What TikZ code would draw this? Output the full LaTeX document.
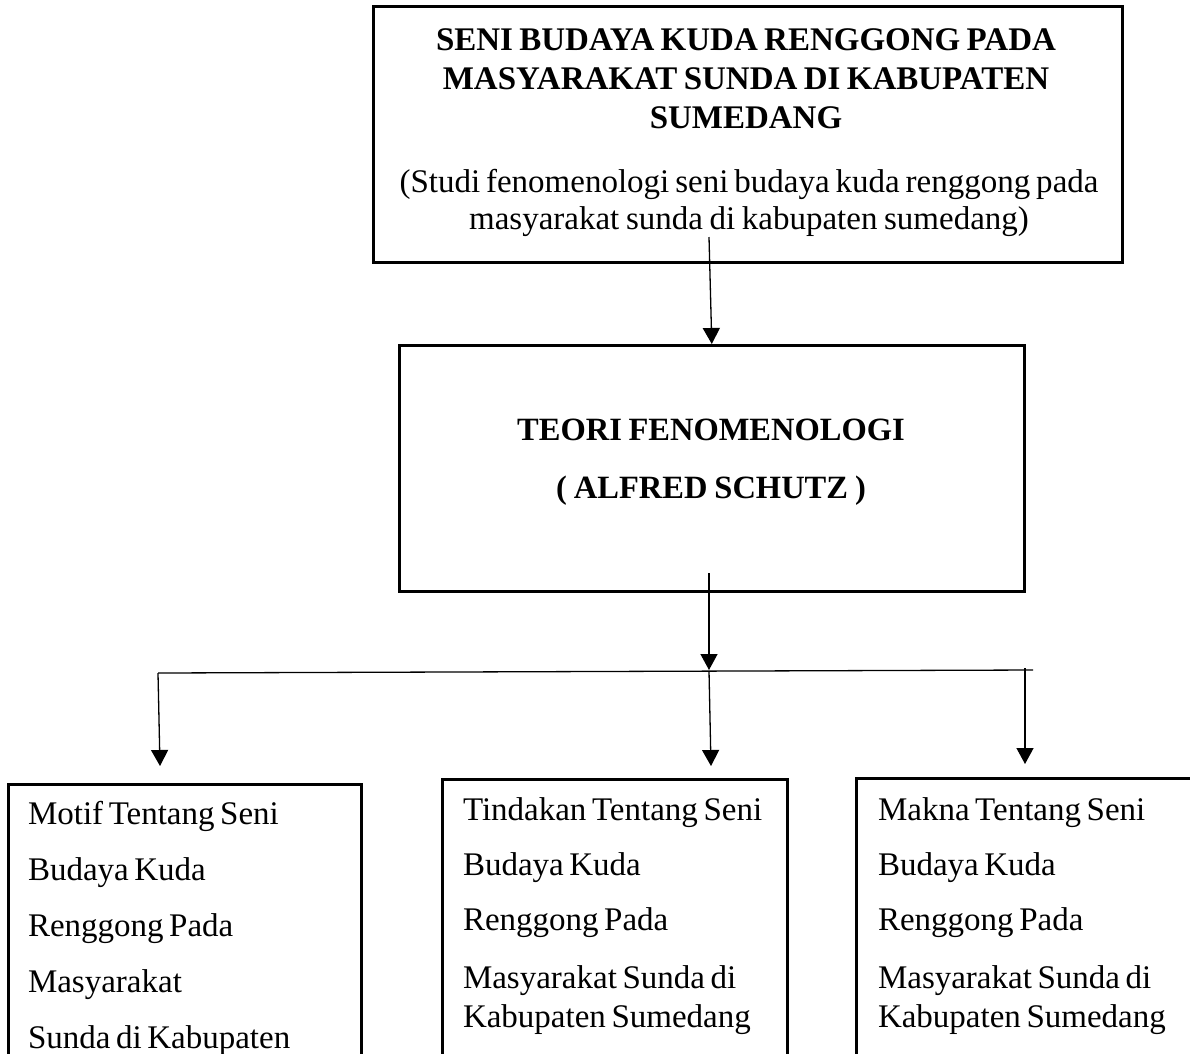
\documentclass[tikz,border=0pt]{standalone}
\usepackage{fontspec}
\setmainfont{Liberation Serif}
\usetikzlibrary{arrows.meta}
\newcommand{\tsp}{\spaceskip=0.17em plus 0.02em\relax\xspaceskip=0.17em\relax}
\begin{document}
\begin{tikzpicture}[x=1pt,y=-1pt,
  box/.style={draw, line width=2.6pt, anchor=north west, inner sep=0pt},
  conn/.style={line width=1.3pt, -{Triangle[width=17pt,length=16pt]}},
  plain/.style={line width=1.3pt},
  txt/.style={inner sep=0pt, outer sep=0pt},
]
\useasboundingbox (0,0) rectangle (1190,1053);
\clip (0,0) rectangle (1190,1053);

% boxes
\node[box, minimum width=749pt, minimum height=256pt] (top) at (372,5) {};
\node[box, minimum width=625pt, minimum height=246pt] (mid) at (398,344) {};
\node[box, minimum width=353pt, minimum height=400pt] (bl) at (7,783) {};
\node[box, minimum width=345pt, minimum height=400pt] (bc) at (441,778) {};
\node[box, minimum width=400pt, minimum height=400pt] (br) at (855,777) {};

% texts
\node[txt, text width=760pt, align=center, anchor=base,
      font=\fontsize{33}{39}\selectfont\bfseries] (toptitle) at (746,50)
  {\tsp SENI BUDAYA KUDA RENGGONG PADA\\MASYARAKAT SUNDA DI KABUPATEN\\SUMEDANG};
\node[txt, text width=760pt, align=center, anchor=base,
      font=\fontsize{33}{37}\selectfont] (topsub) at (749,192)
  {\tsp(Studi fenomenologi seni budaya kuda renggong pada\\masyarakat sunda di kabupaten sumedang)};
\node[txt, text width=600pt, align=center, anchor=base,
      font=\fontsize{32.5}{58}\selectfont\bfseries] (midtitle) at (711,440)
  {\tsp TEORI FENOMENOLOGI\\( ALFRED SCHUTZ )};
\node[txt, text width=330pt, align=left, anchor=base west,
      font=\fontsize{33}{56}\selectfont] (bltext) at (28,824)
  {\tsp Motif Tentang Seni\\Budaya Kuda\\Renggong Pada\\Masyarakat\\Sunda di Kabupaten};
\node[txt, text width=320pt, align=left, anchor=base west,
      font=\fontsize{33}{39}\selectfont] (bctext) at (463,820)
  {\tsp Tindakan Tentang Seni\\[16pt]Budaya Kuda\\[16pt]Renggong Pada\\[19pt]Masyarakat Sunda di\\Kabupaten Sumedang};
\node[txt, text width=320pt, align=left, anchor=base west,
      font=\fontsize{33}{39}\selectfont] (brtext) at (878,820)
  {\tsp Makna Tentang Seni\\[16pt]Budaya Kuda\\[16pt]Renggong Pada\\[19pt]Masyarakat Sunda di\\Kabupaten Sumedang};

% connectors
\coordinate (s1) at (709,237);
\draw[conn] (s1) -- (mid.north);
\coordinate (s2) at (709,573);
\coordinate (hj) at (709,670);
\draw[conn] (s2) -- (hj);
\coordinate (hl) at (158,673);
\coordinate (hr) at (1033,670);
\draw[plain] (hl) -- (hr);
\coordinate (tl) at (160,766);
\draw[conn] (hl) -- (tl);
\coordinate (hm) at (709,671);
\coordinate (tm) at (711,766);
\draw[conn] (hm) -- (tm);
\coordinate (hr2) at (1025,668);
\coordinate (tr) at (1025,764);
\draw[conn] (hr2) -- (tr);
\end{tikzpicture}
\end{document}
